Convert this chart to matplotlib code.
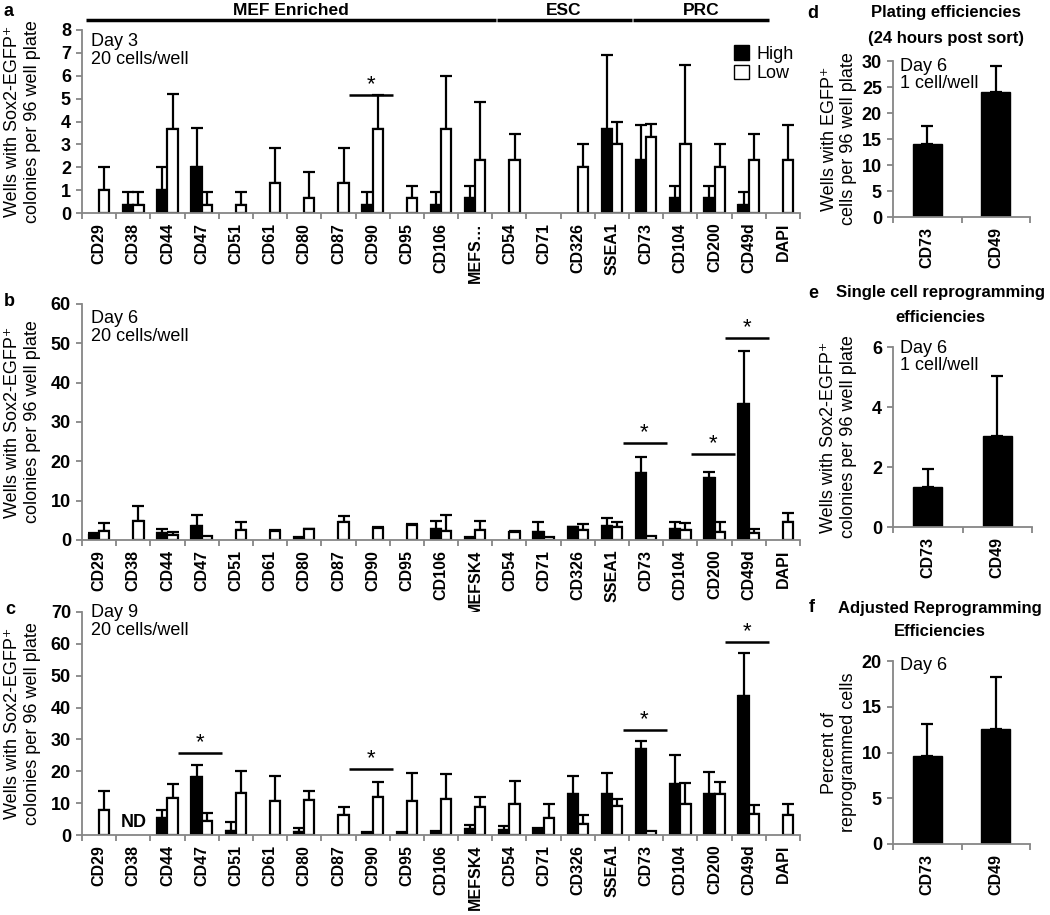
"""
Sox2-EGFP reprogramming after sorting on surface markers (panels a-f).
High / low sorted populations, mean with upward SD bars.
"""

import numpy as np
import matplotlib
matplotlib.use("Agg")
import matplotlib.pyplot as plt
from matplotlib.patches import Patch

plt.rcParams["font.family"] = ["Liberation Sans", "DejaVu Sans"]

nan = np.nan

# Data

markers = ["CD29", "CD38", "CD44", "CD47", "CD51", "CD61", "CD80", "CD87",
           "CD90", "CD95", "CD106", "MEFSK4", "CD54", "CD71", "CD326",
           "SSEA1", "CD73", "CD104", "CD200", "CD49d", "DAPI"]
markers_a = markers[:11] + ["MEFS\u2026"] + markers[12:]

groups = [("MEF Enriched", 0, 11), ("ESC", 12, 15), ("PRC", 16, 19)]

# day 3
a_high = [nan, 0.33, 1.0, 2.0, nan, nan, nan, nan, 0.33, nan, 0.33, 0.67,
          nan, nan, nan, 3.67, 2.33, 0.67, 0.67, 0.33, nan]
a_high_top = [nan, 0.9, 2.0, 3.7, nan, nan, nan, nan, 0.9, nan, 0.9, 1.2,
              nan, nan, nan, 6.9, 3.85, 1.2, 1.2, 0.9, nan]
a_low = [1.0, 0.33, 3.67, 0.33, 0.33, 1.33, 0.67, 1.33, 3.67, 0.67, 3.67,
         2.33, 2.33, nan, 2.0, 3.0, 3.33, 3.0, 2.0, 2.33, 2.33]
a_low_top = [2.0, 0.9, 5.2, 0.9, 0.9, 2.85, 1.8, 2.85, 5.15, 1.2, 6.0,
             4.85, 3.45, nan, 3.0, 4.0, 3.9, 6.45, 3.0, 3.45, 3.85]
a_sig = [(8, 5.16)]

# day 6
b_high = [1.3, nan, 1.7, 3.6, nan, nan, 0.85, nan, nan, nan, 2.8, 0.7,
          nan, 2.1, 3.2, 3.6, 17.1, 2.7, 15.7, 34.7, nan]
b_high_top = [1.9, nan, 2.7, 6.4, nan, nan, nan, nan, nan, nan, 4.9, nan,
              nan, 4.7, 3.3, 5.5, 21.2, 4.7, 17.4, 48.1, nan]
b_low = [2.4, 4.9, 1.3, 1.0, 2.5, 2.4, 2.7, 4.7, 3.0, 3.8, 2.4, 2.5,
         2.0, 0.85, 2.5, 3.4, 1.0, 2.5, 2.1, 1.9, 4.5]
b_low_top = [4.4, 8.6, 2.0, nan, 4.7, 2.6, 2.9, 6.2, 3.2, 4.0, 6.4, 4.8,
             2.2, nan, 4.0, 4.5, nan, 4.2, 4.5, 2.8, 6.9]
b_sig = [(16, 24.7), (18, 21.8), (19, 51.3)]

# day 9
c_high = [nan, nan, 5.4, 18.3, 1.4, nan, 1.0, nan, 1.0, 1.0, 1.4, 1.8,
          1.7, 2.2, 12.9, 12.9, 27.0, 16.0, 13.0, 43.7, nan]
c_high_top = [nan, nan, 8.0, 21.9, 4.0, nan, 2.1, nan, nan, nan, nan, 3.0,
              2.8, nan, 18.6, 19.5, 29.4, 25.0, 19.9, 57.0, nan]
c_low = [8.0, nan, 11.7, 4.4, 13.3, 10.7, 11.0, 6.3, 12.0, 10.8, 11.2, 8.7,
         9.7, 5.2, 3.4, 9.1, 1.3, 9.7, 13.0, 6.5, 6.4]
c_low_top = [13.8, nan, 15.9, 7.0, 20.1, 18.5, 13.8, 8.7, 16.5, 19.5, 19.3,
             12.0, 17.0, 9.7, 6.3, 11.4, nan, 16.2, 16.7, 9.4, 9.6]
c_sig = [(3, 25.6), (8, 20.6), (16, 32.9), (19, 60.6)]
c_nd = [1]

# single cell panels
single = ["CD73", "CD49"]
d_vals = [14.0, 24.1]
d_top = [17.5, 29.1]
e_vals = [1.35, 3.05]
e_top = [1.93, 5.02]
f_vals = [9.6, 12.6]
f_top = [13.1, 18.2]


# Layout helpers

W, H = 1050, 915
AXIS_GREY = "#868686"

fig = plt.figure(figsize=(W / 100, H / 100), dpi=100)


def add_ax(left, top, right, bottom):
    return fig.add_axes([left / W, 1 - bottom / H,
                         (right - left) / W, (bottom - top) / H])


def style_axes(ax, labels, ymax, ystep, ylabel, label_x, label_size=13):
    n = len(labels)
    for s in ("top", "right"):
        ax.spines[s].set_visible(False)
    for s in ("left", "bottom"):
        ax.spines[s].set_color(AXIS_GREY)
        ax.spines[s].set_linewidth(1.3)
    ax.set_xlim(-0.5, n - 0.5)
    ax.set_ylim(0, ymax)
    ax.set_yticks(np.arange(0, ymax + ystep / 2, ystep))
    ax.set_xticks(np.arange(n))
    ax.set_xticklabels(labels, rotation=90, fontsize=11.5, fontweight="bold")
    ax.set_xticks(np.arange(n + 1) - 0.5, minor=True)
    ax.tick_params(axis="x", which="major", length=0, pad=7)
    ax.tick_params(axis="x", which="minor", length=4, width=1.3,
                   color=AXIS_GREY, direction="out")
    ax.tick_params(axis="y", length=4, width=1.3, color=AXIS_GREY, pad=4,
                   labelsize=13)
    for t in ax.get_yticklabels():
        t.set_fontweight("bold")
    ax.set_ylabel(ylabel, fontsize=label_size, linespacing=1.2)
    ax.yaxis.set_label_coords(label_x, 0.5)


def up_errors(ax, x, vals, tops):
    vals = np.asarray(vals, float)
    tops = np.asarray(tops, float)
    ok = ~np.isnan(vals) & ~np.isnan(tops)
    ax.errorbar(x[ok], vals[ok],
                yerr=[np.zeros(ok.sum()), tops[ok] - vals[ok]],
                fmt="none", ecolor="black", elinewidth=1.6, capsize=4.5,
                capthick=1.6, zorder=1)


def pair_bars(ax, high, high_top, low, low_top):
    x = np.arange(len(high))
    w = 0.3
    hi = np.asarray(high, float)
    lo = np.asarray(low, float)
    mh = ~np.isnan(hi)
    ml = ~np.isnan(lo)
    up_errors(ax, x - w / 2, high, high_top)
    up_errors(ax, x + w / 2, low, low_top)
    ax.bar(x[mh] - w / 2, hi[mh], w, color="black", edgecolor="black",
           linewidth=1.6, zorder=2)
    ax.bar(x[ml] + w / 2, lo[ml], w, color="white", edgecolor="black",
           linewidth=1.6, zorder=2)


def sig_marks(ax, sig):
    for i, y in sig:
        ax.plot([i - 0.68, i + 0.6], [y, y], color="black", lw=1.8,
                solid_capstyle="butt", clip_on=False)
        ax.text(i - 0.05, y, "*", ha="center", va="bottom", fontsize=16)


YLAB = "Wells with Sox2-EGFP\u207a\ncolonies per 96 well plate"

# a
ax_a = add_ax(82, 30, 800, 213)
pair_bars(ax_a, a_high, a_high_top, a_low, a_low_top)
sig_marks(ax_a, a_sig)
style_axes(ax_a, markers_a, 8, 1, YLAB, -0.057)
ax_a.text(0.012, 0.985, "Day 3\n20 cells/well", transform=ax_a.transAxes,
          ha="left", va="top", fontsize=13, linespacing=1.1)
ax_a.legend(handles=[Patch(facecolor="black", edgecolor="black", label="High"),
                     Patch(facecolor="white", edgecolor="black", label="Low")],
            loc="upper left", bbox_to_anchor=(0.895, 0.965), frameon=False,
            fontsize=13, handlelength=0.85, handleheight=0.85,
            handletextpad=0.4, labelspacing=0.1, borderpad=0)

trans = ax_a.get_xaxis_transform()
for name, i0, i1 in groups:
    ax_a.plot([i0 - 0.37, i1 + 0.6], [1.055, 1.055], color="black", lw=2.5,
              transform=trans, clip_on=False, solid_capstyle="butt")
    ax_a.text((i0 + i1) / 2 + 0.1, 1.068, name, transform=trans,
              ha="center", va="bottom", fontsize=12.5, fontweight="bold")

# b
ax_b = add_ax(82, 304, 800, 540)
pair_bars(ax_b, b_high, b_high_top, b_low, b_low_top)
sig_marks(ax_b, b_sig)
style_axes(ax_b, markers, 60, 10, YLAB, -0.057)
ax_b.text(0.012, 0.975, "Day 6\n20 cells/well", transform=ax_b.transAxes,
          ha="left", va="top", fontsize=13, linespacing=1.1)

# c
ax_c = add_ax(82, 612, 800, 835)
pair_bars(ax_c, c_high, c_high_top, c_low, c_low_top)
sig_marks(ax_c, c_sig)
style_axes(ax_c, markers, 70, 10, YLAB, -0.057)
ax_c.text(0.012, 1.035, "Day 9\n20 cells/well", transform=ax_c.transAxes,
          ha="left", va="top", fontsize=13, linespacing=1.1)
for i in c_nd:
    ax_c.text(i, 4, "ND", ha="center", va="center", fontsize=13,
              fontweight="bold")


# d, e, f
def single_panel(box, vals, tops, ymax, ystep, ylabel, note, note_y):
    ax = add_ax(*box)
    x = np.arange(len(vals))
    up_errors(ax, x, vals, tops)
    ax.bar(x, vals, 0.42, color="black", edgecolor="black", zorder=2)
    style_axes(ax, single, ymax, ystep, ylabel, -0.26)
    ax.text(0.05, note_y, note, transform=ax.transAxes, ha="left", va="top",
            fontsize=13, linespacing=1.0)
    return ax


single_panel((893, 61, 1030, 217), d_vals, d_top, 30, 5,
             "Wells with EGFP\u207a\ncells per 96 well plate",
             "Day 6\n1 cell/well", 1.02)
single_panel((893, 347, 1032, 527), e_vals, e_top, 6, 2, YLAB,
             "Day 6\n1 cell/well", 1.04)
single_panel((893, 661, 1030, 844), f_vals, f_top, 20, 5,
             "Percent of\nreprogrammed cells", "Day 6", 1.02)

# titles and panel letters
titles = [(946, [13, 39], ["Plating efficiencies", "(24 hours post sort)"]),
          (940, [293, 318], ["Single cell reprogramming", "efficiencies"]),
          (940, [608, 631], ["Adjusted Reprogramming", "Efficiencies"])]
for xc, ys, lines in titles:
    for y, line in zip(ys, lines):
        fig.text(xc / W, 1 - y / H, line, ha="center", va="center",
                 fontsize=12, fontweight="bold")

letters = [("a", 8, 11), ("b", 9, 302), ("c", 10, 610),
           ("d", 813, 13), ("e", 813, 293), ("f", 812, 608)]
for s, x, y in letters:
    fig.text(x / W, 1 - y / H, s, ha="center", va="center", fontsize=13,
             fontweight="bold")

fig.savefig("out.png", dpi=100)
